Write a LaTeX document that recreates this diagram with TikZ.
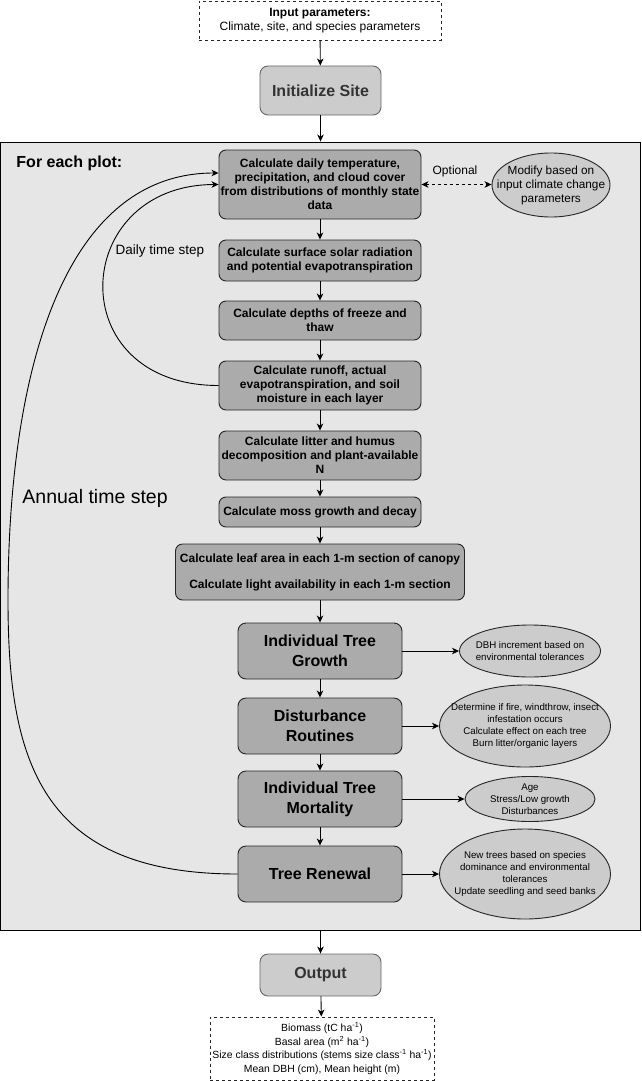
\documentclass[tikz,border=0pt]{standalone}
\usepackage{fontspec}
\setmainfont{Liberation Sans}
\usetikzlibrary{arrows.meta,shapes.geometric}
\definecolor{boxgray}{HTML}{ABABAB}
\definecolor{ellgray}{HTML}{CCCCCC}
\definecolor{plotgray}{HTML}{E6E6E6}
\definecolor{edgegray}{HTML}{666666}
\definecolor{textgray}{HTML}{333333}

\begin{document}
\begin{tikzpicture}[x=1pt, y=-1pt, line width=0.9pt,
  >={Stealth[length=7pt,width=6.5pt,inset=2pt]},
  calcbox/.style={draw=black!85, fill=boxgray, rounded corners=7pt, inner sep=0pt, align=center,
    font=\bfseries\fontsize{12}{14}\selectfont, minimum width=202, minimum height=#1},
  treebox/.style={draw=black!85, fill=boxgray, rounded corners=8pt, inner sep=0pt, align=center,
    font=\bfseries\fontsize{16}{20}\selectfont, minimum width=164, minimum height=56},
  graybox/.style={draw=edgegray, fill=ellgray, text=textgray, rounded corners=8pt, inner sep=0pt,
    font=\bfseries\fontsize{16}{20}\selectfont, minimum width=121, minimum height=#1},
  note/.style={ellipse, draw=black!85, fill=ellgray, inner sep=0pt, minimum width=#1},
  notetext/.style={align=center, inner sep=0pt, font=\fontsize{9.7}{12}\selectfont},
  databox/.style={draw=black!85, dash pattern=on 3pt off 3pt, fill=white, inner sep=0pt, align=center}]
\useasboundingbox (0,0) rectangle (641,1081);
\node[draw=black, fill=plotgray, inner sep=0pt, minimum width=640, minimum height=788] (plot) at (320.5,536) {};
\node[databox, font=\fontsize{12}{14}\selectfont, minimum width=242, minimum height=39] (input) at (320,20.5)
  {{\bfseries Input parameters:}\\Climate, site, and species parameters};
\node[graybox=49] (init) at (320.5,90.5) {Initialize Site};
\node[anchor=west, inner sep=0pt, font=\bfseries\fontsize{16}{20}\selectfont] (title) at (16,163) {For each plot:};

\node[calcbox=69] (temp) at (320,184.5) {Calculate daily temperature,\\precipitation, and cloud cover\\from distributions of monthly state\\data};
\node[calcbox=41] (solar) at (320,260.5) {Calculate surface solar radiation\\and potential evapotranspiration};
\node[calcbox=39] (freeze) at (320,320.5) {Calculate depths of freeze and\\thaw};
\node[calcbox=49] (runoff) at (320,385.5) {Calculate runoff, actual\\evapotranspiration, and soil\\moisture in each layer};
\node[calcbox=49] (litter) at (320,455.5) {Calculate litter and humus\\decomposition and plant-available\\N};
\node[calcbox=30] (moss) at (320,512) {Calculate moss growth and decay};
\node[calcbox=56, minimum width=289, font=\bfseries\fontsize{12}{26}\selectfont] (leaf) at (320,572)
  {Calculate leaf area in each 1-m section of canopy\\Calculate light availability in each 1-m section};
\node[treebox] (growth) at (320,651) {Individual Tree\\Growth};
\node[treebox] (disturb) at (320,726) {Disturbance\\Routines};
\node[treebox] (mortal) at (320,799) {Individual Tree\\Mortality};
\node[treebox] (renewal) at (320,874) {Tree Renewal};

\node[note=118, minimum height=64, label={[notetext, font=\fontsize{11.8}{14}\selectfont]center:{Modify based on\\input climate change\\parameters}}] (modify) at (551,185) {};
\node[note=141, minimum height=52, label={[notetext]center:{DBH increment based on\\environmental tolerances}}] (dbh) at (530,651) {};
\node[note=171, minimum height=82, label={[notetext]center:{Determine if fire, windthrow, insect\\infestation occurs\\Calculate effect on each tree\\Burn litter/organic layers}}] (fire) at (525,726) {};
\node[note=130, minimum height=45, label={[notetext]center:{Age\\Stress/Low growth\\Disturbances}}] (death) at (530,799) {};
\node[note=171, minimum height=90, label={[notetext]center:{New trees based on species\\dominance and environmental\\tolerances\\Update seedling and seed banks}}] (seed) at (525,874) {};

\node[font=\fontsize{12}{14}\selectfont] (optional) at (455,171) {Optional};
\node[font=\fontsize{13.5}{16}\selectfont] (daily) at (160,251) {Daily time step};
\node[anchor=west, inner sep=0pt, font=\fontsize{19.5}{22}\selectfont] (annual) at (22,498) {Annual time step};

\node[graybox=42] (out) at (320.5,975) {Output};
\node[databox, font=\fontsize{10.4}{13.5}\selectfont, minimum width=224, minimum height=63] (results) at (322,1048.5)
  {Biomass (tC ha\textsuperscript{-1})\\Basal area (m\textsuperscript{2} ha\textsuperscript{-1})\\Size class distributions (stems size class\textsuperscript{-1} ha\textsuperscript{-1})\\Mean DBH (cm), Mean height (m)};

\draw[->] (input) -- (init);
\draw[->] (init.south) -- (init.south |- plot.north);
\foreach \a/\b in {temp/solar, solar/freeze, freeze/runoff, runoff/litter, litter/moss, moss/leaf,
  leaf/growth, growth/disturb, disturb/mortal, mortal/renewal}
  \draw[->] (\a) -- (\b);
\foreach \a/\b in {growth/dbh, disturb/fire, mortal/death, renewal/seed}
  \draw[->] (\a.east) -- (\a.east -| \b.west);
\draw[<->, dash pattern=on 3pt off 3pt] (temp.east) -- (temp.east -| modify.west);
\draw[->] (runoff.west) .. controls (60,385.5) and (70,185) .. (temp.west);
\draw[->] (renewal.west) .. controls (40,874) and (8,760) .. (8,600) .. controls (8,380) and (60,173) .. ([yshift=11.5pt]temp.west);
\draw[->] (plot.south -| out.north) -- (out);
\draw[->] (out) -- (results);
\end{tikzpicture}
\end{document}
